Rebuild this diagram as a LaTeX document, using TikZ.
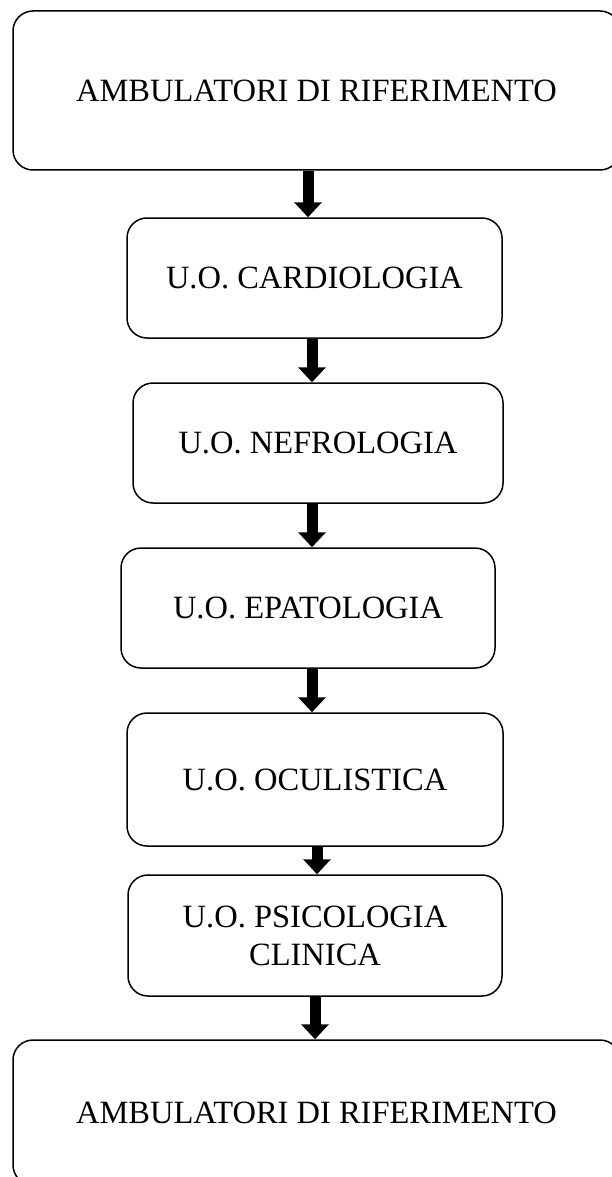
\documentclass[tikz,border=0pt]{standalone}
\usepackage{fontspec}
\setmainfont{Liberation Serif}
\usetikzlibrary{arrows.meta}
\begin{document}
\begin{tikzpicture}[x=1pt,y=-1pt,
  box/.style={draw=black, line width=1.5pt, rounded corners=20pt,
    align=center, inner sep=0pt, font=\fontsize{32.5}{38}\selectfont},
  blk/.style={line width=11pt, -{Triangle[width=27pt,length=15pt]}}]
\useasboundingbox (0,0) rectangle (611,1177);
% boxes: centre at ((l+r)/2,(t+b)/2), size (r-l) x (b-t)
\node[box, minimum width=607pt, minimum height=159pt] (amb1) at (316.5,90.5) {AMBULATORI DI RIFERIMENTO};
\node[box, minimum width=375pt, minimum height=120pt] (card) at (314.5,278) {U.O. CARDIOLOGIA};
\node[box, minimum width=370pt, minimum height=120pt] (nefr) at (318,443) {U.O. NEFROLOGIA};
\node[box, minimum width=374pt, minimum height=120pt] (epat) at (308,608) {U.O. EPATOLOGIA};
\node[box, minimum width=376pt, minimum height=133pt] (ocul) at (315,779.5) {U.O. OCULISTICA};
\node[box, minimum width=374pt, minimum height=121pt] (psic) at (315,935.5) {U.O. PSICOLOGIA\\CLINICA};
\node[box, minimum width=607pt, minimum height=145pt] (amb2) at (316.5,1112.5) {AMBULATORI DI RIFERIMENTO};
% block arrows between consecutive boxes
\draw[blk] ([xshift=-8.5pt]amb1.south) -- ([xshift=-8.5pt]amb1.south |- card.north);
\draw[blk] ([xshift=-2.5pt]card.south) -- ([xshift=-2.5pt]card.south |- nefr.north);
\draw[blk] ([xshift=-6pt]nefr.south) -- ([xshift=-6pt]nefr.south |- epat.north);
\draw[blk] ([xshift=4pt]epat.south) -- ([xshift=4pt]epat.south |- ocul.north);
\draw[blk] ([xshift=2pt]ocul.south) -- ([xshift=2pt]ocul.south |- psic.north);
\draw[blk] (psic.south) -- (psic.south |- amb2.north);
\end{tikzpicture}
\end{document}
